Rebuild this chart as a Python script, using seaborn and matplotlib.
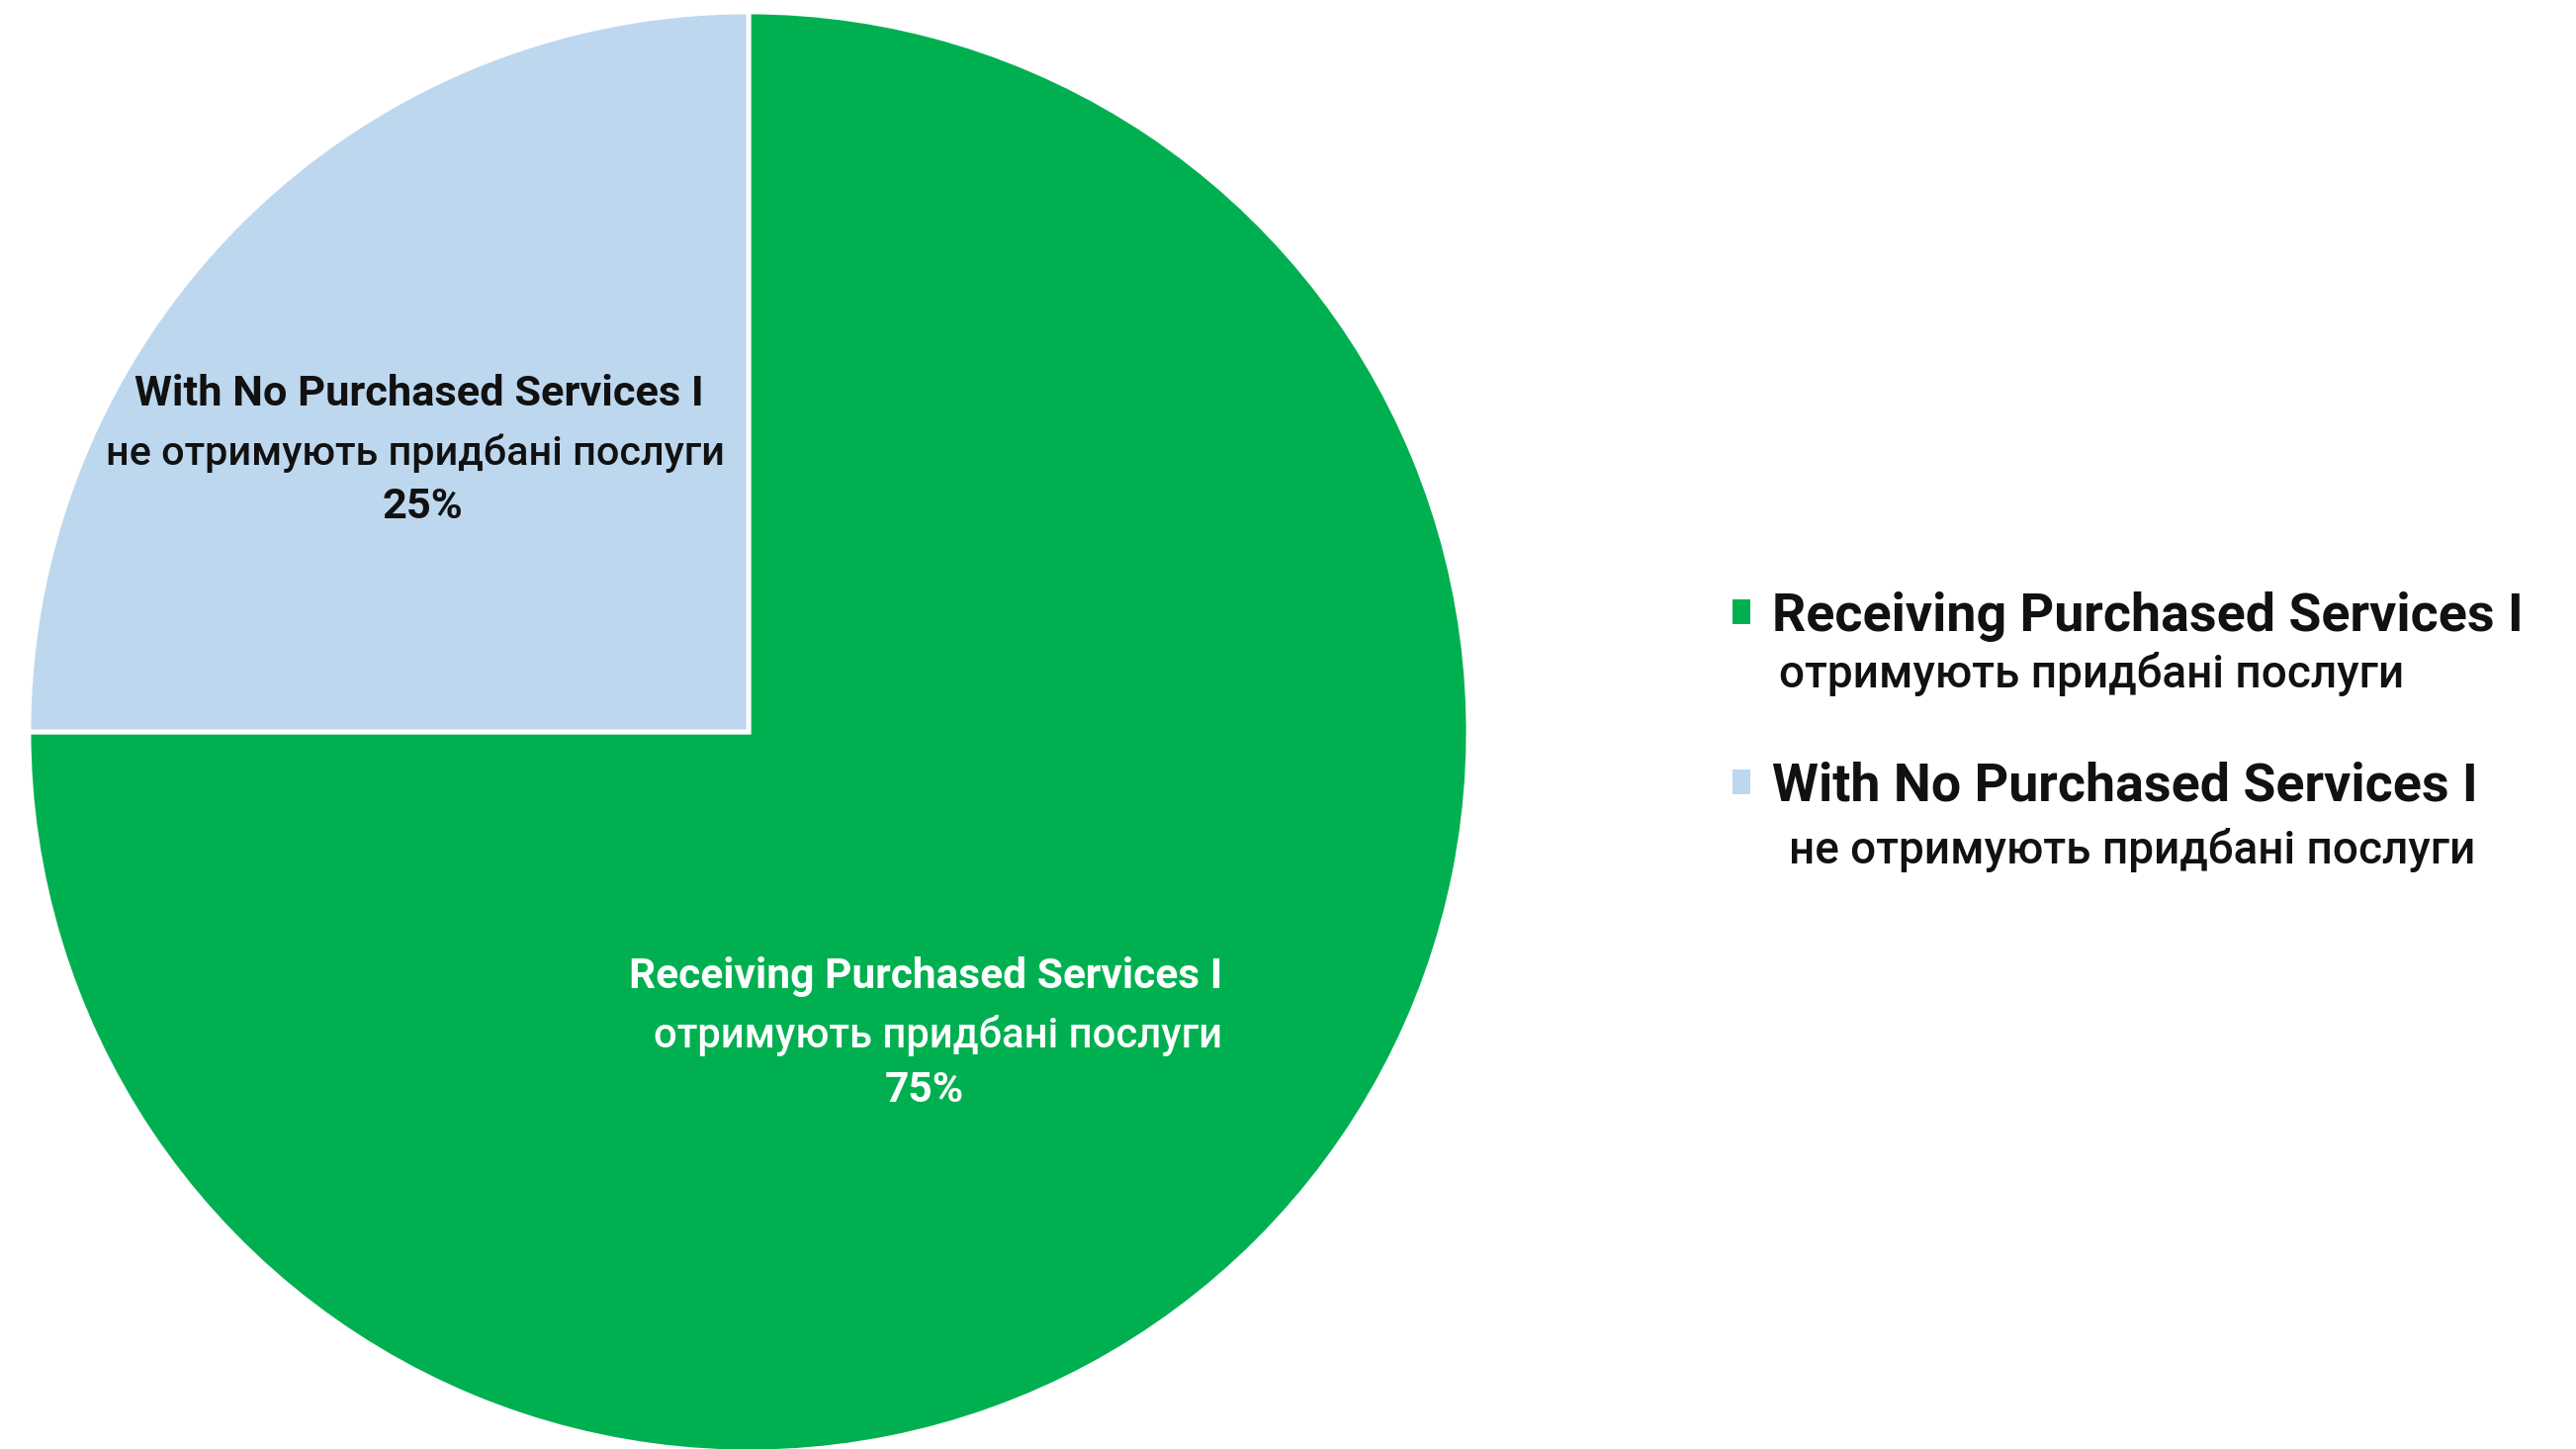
import matplotlib
matplotlib.use("Agg")
import matplotlib.pyplot as plt
import seaborn as sns
from matplotlib import font_manager
from matplotlib.patches import Patch

sns.set_theme(style="white")

# pick a narrow font if one is installed (the original looks like Calibri)
installed = {f.name for f in font_manager.fontManager.ttflist}
main_font = "Liberation Sans Narrow" if "Liberation Sans Narrow" in installed else "Roboto"
plt.rcParams["font.family"] = [main_font, "DejaVu Sans"]

# data
labels_en = ["Receiving Purchased Services I", "With No Purchased Services I"]
labels_uk = ["отримують придбані послуги", "не отримують придбані послуги"]
shares = [75, 25]
colors = ["#00B050", "#BDD7EE"]

W, H = 2605, 1465
fig = plt.figure(figsize=(W / 100, H / 100), dpi=100)
renderer = fig.canvas.get_renderer()
SUB = 500  # weight of the ukrainian lines


def size_for(s, width_px, weight="bold"):
    # font size that makes s about width_px wide
    t = fig.text(0, 0, s, fontsize=20, fontweight=weight)
    w = t.get_window_extent(renderer).width
    t.remove()
    return 20 * width_px / w


def fx(px):
    return px / W


def fy(px):
    return 1 - px / H


ax = fig.add_axes([fx(29), -3 / H, 1456 / W, 1456 / H])
ax.pie(shares, colors=colors, startangle=90, counterclock=False, radius=1,
       wedgeprops=dict(edgecolor="white", linewidth=3.5))
ax.set_xlim(-1, 1)
ax.set_ylim(-1, 1)
ax.set_aspect("equal")
ax.axis("off")

# slice labels
s1 = size_for(labels_en[1], 574)
s2 = size_for(labels_uk[1], 627, weight=SUB)
fig.text(fx(424), fy(398), labels_en[1], fontsize=s1, fontweight="bold",
         ha="center", va="center", color="#111111")
fig.text(fx(420), fy(458), labels_uk[1], fontsize=s2, fontweight=SUB,
         ha="center", va="center", color="#111111")
fig.text(fx(427), fy(513), f"{shares[1]}%", fontsize=s1, fontweight="bold",
         ha="center", va="center", color="#111111")

g1 = size_for(labels_en[0], 600)
g2 = size_for(labels_uk[0], 575, weight=SUB)
fig.text(fx(1236), fy(988), labels_en[0], fontsize=g1, fontweight="bold",
         ha="right", va="center", color="white")
fig.text(fx(1236), fy(1047), labels_uk[0], fontsize=g2, fontweight=SUB,
         ha="right", va="center", color="white")
fig.text(fx(935), fy(1103), f"{shares[0]}%", fontsize=g1, fontweight="bold",
         ha="center", va="center", color="white")

# legend: first line through the legend, second line placed under it
lsize = size_for(labels_en[0], 758)
handles = [Patch(facecolor=c, edgecolor="none") for c in colors]
leg = fig.legend(handles, labels_en, loc="upper left",
                 bbox_to_anchor=(fx(1752), fy(598)), frameon=False,
                 prop=dict(size=lsize, weight="bold"), borderpad=0,
                 borderaxespad=0, handlelength=0.33, handleheight=0.33,
                 handletextpad=0.42, labelspacing=2.25)
for t in leg.get_texts():
    t.set_color("#111111")
fig.canvas.draw()

l2size = size_for(labels_uk[0], 633, weight=SUB)
for txt, sub, dx, dy in zip(leg.get_texts(), labels_uk, [7, 17], [58, 64]):
    bb = txt.get_window_extent(renderer)
    fig.text((bb.x0 + dx) / W, ((bb.y0 + bb.y1) / 2 - dy) / H, sub,
             ha="left", va="center", fontsize=l2size, fontweight=SUB,
             color="#111111")

fig.savefig("out.png", dpi=100, facecolor="white")
